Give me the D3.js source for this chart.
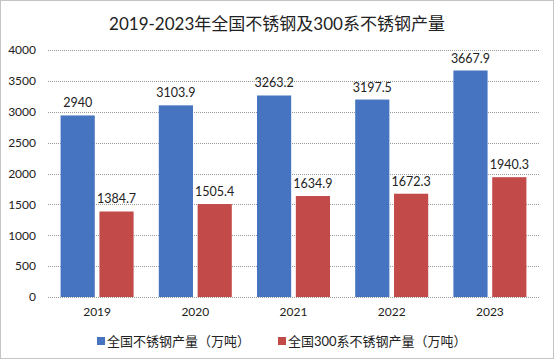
<!DOCTYPE html>
<html lang="zh">
<head>
<meta charset="utf-8">
<script src="https://unpkg.com/d3@7/dist/d3.min.js"></script>
<style>
    body { margin: 0; background: #fff; }
    svg text { font-family: Lato, "Noto Sans CJK SC", sans-serif; fill: #222; }
</style>
</head>
<body>
<div id="chart"></div>
<script>
    // data
    const years = ["2019", "2020", "2021", "2022", "2023"];
    const totalOutput = [2940, 3103.9, 3263.2, 3197.5, 3667.9];
    const output300 = [1384.7, 1505.4, 1634.9, 1672.3, 1940.3];
    const seriesNames = ["全国不锈钢产量（万吨）", "全国300系不锈钢产量（万吨）"];
    const yTicks = [0, 500, 1000, 1500, 2000, 2500, 3000, 3500, 4000];
    const colors = ["#4674c1", "#c24b4a"];

    const width = 554, height = 361;

    const svg = d3.select("#chart").append("svg")
        .attr("width", width)
        .attr("height", height);

    // outer dotted frame
    svg.append("rect")
        .attr("x", 0.5).attr("y", 0.5)
        .attr("width", width - 1).attr("height", height - 3)
        .attr("fill", "none")
        .attr("stroke", "#888")
        .attr("stroke-dasharray", "1,1");

    svg.append("text")
        .attr("x", 277).attr("y", 30)
        .attr("text-anchor", "middle")
        .style("font-size", "17px")
        .text("2019-2023年全国不锈钢及300系不锈钢产量");

    const x = d3.scaleBand().domain(years).range([48, 539]);
    const inner = d3.scaleBand().domain([0, 1]).range([0, 73]).paddingInner(0.12);
    const y = d3.scaleLinear().domain([0, 4000]).range([297, 50]);

    // grid lines
    svg.append("g")
        .selectAll("line")
        .data(yTicks)
        .join("line")
        .attr("x1", 48).attr("x2", 539)
        .attr("y1", d => Math.round(y(d)) + 0.5)
        .attr("y2", d => Math.round(y(d)) + 0.5)
        .attr("stroke", "#9a9a9a")
        .attr("stroke-dasharray", "1,1");

    // y axis labels
    const yAxis = svg.append("g")
        .attr("transform", "translate(48,0)")
        .call(d3.axisLeft(y).tickValues(yTicks).tickFormat(d3.format("d")).tickSize(0).tickPadding(12));
    yAxis.select(".domain").remove();
    yAxis.selectAll("text")
        .style("font-size", "12px")
        .style("font-family", "Lato, sans-serif")
        .attr("fill", "#222");

    // x axis labels
    const xAxis = svg.append("g")
        .attr("transform", "translate(0,297)")
        .call(d3.axisBottom(x).tickSize(0).tickPadding(10));
    xAxis.select(".domain").remove();
    xAxis.selectAll("text")
        .style("font-size", "12px")
        .style("font-family", "Lato, sans-serif")
        .attr("fill", "#222");

    const series = [totalOutput, output300];
    const groupOffset = (x.bandwidth() - 73) / 2;

    series.forEach((vals, s) => {
        const g = svg.append("g");
        g.selectAll("rect")
            .data(vals)
            .join("rect")
            .attr("x", (d, i) => x(years[i]) + groupOffset + inner(s))
            .attr("y", d => y(d))
            .attr("width", inner.bandwidth())
            .attr("height", d => y(0) - y(d))
            .attr("fill", colors[s]);
        g.selectAll("text")
            .data(vals)
            .join("text")
            .attr("x", (d, i) => x(years[i]) + groupOffset + inner(s) + inner.bandwidth() / 2)
            .attr("y", d => y(d) - 8)
            .attr("text-anchor", "middle")
            .style("font-size", "12.5px")
            .text(d => d);
    });

    // legend
    const legendX = [97, 278];
    const legend = svg.append("g");
    seriesNames.forEach((name, i) => {
        legend.append("rect")
            .attr("x", legendX[i]).attr("y", 337)
            .attr("width", 8).attr("height", 8)
            .attr("fill", colors[i]);
        legend.append("text")
            .attr("x", legendX[i] + 10).attr("y", 346)
            .style("font-size", "13px")
            .text(name);
    });
</script>
</body>
</html>
